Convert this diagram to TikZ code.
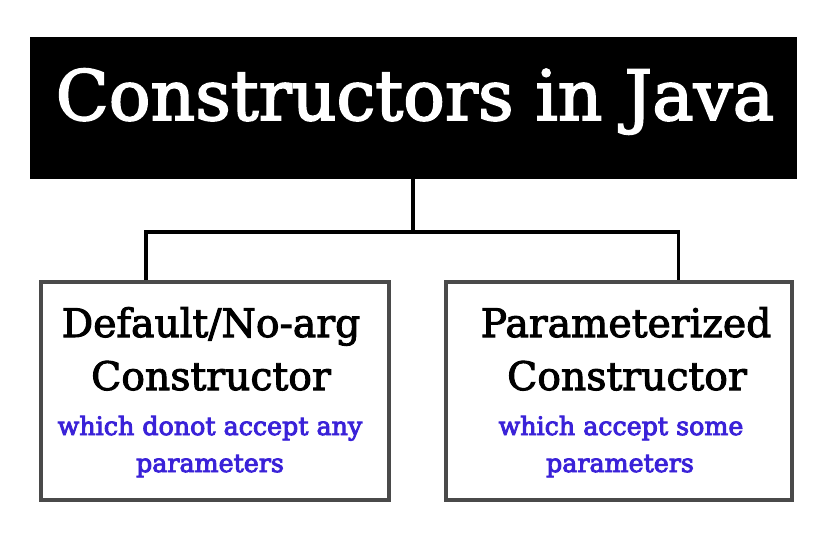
\documentclass[tikz,border=0pt]{standalone}
\usepackage{fontspec}
\setmainfont{DejaVu Serif}[FakeBold=2.5]
\newfontfamily\subfont{DejaVu Serif}[FakeBold=3.5]
\usepackage{xcolor}
\usetikzlibrary{calc}
\definecolor{boxgray}{HTML}{4A4A4A}
\definecolor{subblue}{HTML}{3A22D8}

\begin{document}
\begin{tikzpicture}[x=0.75pt,y=-0.75pt,
  box/.style={draw=boxgray,line width=3pt,minimum height=163.5pt,inner sep=0pt},
  link/.style={line width=2.4pt,black},
  head/.style={anchor=base,inner sep=0pt,font=\fontsize{29.5}{32}\selectfont},
  sub/.style={anchor=base,inner sep=0pt,text=subblue,font=\subfont\fontsize{19}{22}\selectfont}]
\useasboundingbox (0,0) rectangle (827,540);
% title bar
\node[fill=black,minimum width=575.25pt,minimum height=106.5pt,inner sep=0pt] (title) at (413.5,108) {};
\node[anchor=base,inner sep=0pt,text=white,font=\fontsize{52}{56}\selectfont] (titletext) at (415,120) {Constructors in Java};
% the two kinds
\node[box,minimum width=261pt] (default) at (215,391) {};
\node[box,minimum width=259.5pt] (param) at (619,391) {};
\node[head] (defhead1) at (211,337) {Default/No-arg};
\node[head] (defhead2) at (211,390) {Constructor};
\node[sub] (defsub1) at (210,435) {which donot accept any};
\node[sub] (defsub2) at (210,472) {parameters};
\node[head] (parhead1) at (626,337) {Parameterized};
\node[head] (parhead2) at (627,390) {Constructor};
\node[sub] (parsub1) at (621,435) {which accept some};
\node[sub] (parsub2) at (620,472) {parameters};
% connectors
\coordinate (bus) at (413,232);
\draw[link] (title.south -| bus) -- (bus);
\draw[link] ($(default.north west)!0.304!(default.north east)$) |- (bus)
  -| ($(param.north west)!0.671!(param.north east)$);
\end{tikzpicture}
\end{document}
